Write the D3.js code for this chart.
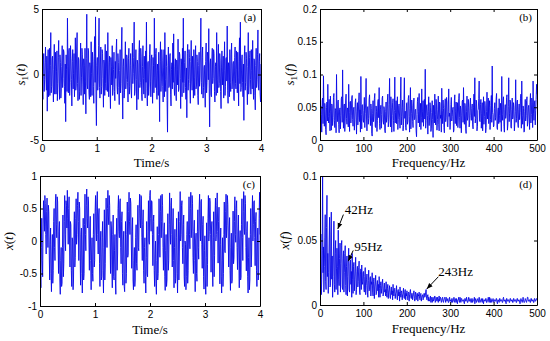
<!DOCTYPE html>
<html><head><meta charset="utf-8">
<script src="https://cdn.jsdelivr.net/npm/d3@7"></script>
<style>body{margin:0;background:#fff}svg{display:block}</style>
</head><body><svg id="c" width="550" height="341"></svg>
<script>
// ---- data ----
const timeTicks=[0,1,2,3,4];
const freqTicks=[0,100,200,300,400,500];
const s1tTicks=[-5,0,5];
const s1fTicks=[0,0.05,0.1,0.15,0.2];
const xtTicks=[-1,-0.5,0,0.5,1];
const xfTicks=[0,0.05,0.1];
const timeSpan=[0,4];
const freqSpan=[0,500];

const s1t=[0.8,-0.6,-1.9,1.1,1.6,-1.3,-0.4,0.9,2.1,-0.2,-1.2,1.4,-2.8,0.5,1.9,-1.7,0.3,2.0,-1.6,0.7,3.2,-1.4,-0.9,1.2,1.4,-0.8,-2.1,0.4,2.3,-1.5,0.6,1.7,-1.5,0.2,1.8,-2.0,-0.7,1.3,2.6,-0.5,-1.9,1.5,0.9,-1.8,-1.1,0.6,2.2,-1.0,-0.3,1.9,
1.7,-0.9,-2.2,0.8,-3.6,1.5,0.4,-1.3,4.3,0.6,-1.4,1.8,2.0,-1.6,-0.6,2.2,1.2,-0.4,-2.4,1.0,1.9,-1.1,0.1,1.6,-1.7,-0.2,2.8,-1.2,-0.8,2.1,3.2,-0.7,-2.0,1.3,1.1,-1.9,-1.3,0.5,2.4,-1.6,-0.2,2.0,1.5,-0.8,-2.3,1.2,0.7,-1.5,2.0,-0.5,
-3.0,1.2,4.6,-0.8,-1.1,2.0,1.8,-1.4,-1.9,0.9,0.5,-1.7,2.5,0.1,-1.6,1.7,1.0,-0.9,-2.2,1.4,2.9,-0.6,4.4,-1.8,-3.9,0.7,1.3,-1.2,-0.5,2.2,4.3,-1.0,-1.8,0.8,2.1,-1.5,-0.9,1.9,1.6,-0.3,-2.5,1.1,0.8,-1.6,2.3,-0.7,-1.2,1.8,0.2,-1.3,
3.2,-0.5,-1.7,0.9,1.4,-1.1,-2.6,1.3,0.6,-0.8,2.2,-1.6,-1.0,0.4,1.7,-1.3,-2.0,1.0,-0.3,1.8,2.7,-0.9,-1.5,1.6,0.9,-1.0,-2.3,0.3,1.9,-1.4,-0.7,2.1,3.6,-1.2,-3.4,0.6,1.2,-1.8,-1.4,0.8,2.5,-1.1,-0.4,1.5,1.3,-0.6,-2.1,1.2,2.0,-1.5,
-0.9,0.7,1.6,-1.2,-1.8,0.5,2.4,-0.7,0.1,1.3,4.0,-1.6,-1.3,0.8,1.9,-0.4,-2.7,1.1,0.8,-1.9,-1.1,1.7,2.6,-1.0,-0.6,2.0,1.4,-1.5,-2.0,0.6,2.2,-0.3,-1.5,1.4,0.4,-1.8,1.8,-0.6,4.0,-1.1,-2.4,0.9,1.0,-1.6,-0.8,1.5,2.3,-0.5,-1.7,1.2,
1.5,-0.8,-2.2,1.3,0.7,-1.4,4.3,-0.2,-1.0,1.6,2.0,-1.2,-1.9,0.8,0.3,-1.6,1.7,-0.5,-3.6,1.0,2.5,-1.3,-0.5,1.9,1.1,-0.9,-2.1,0.5,1.9,-1.7,3.2,-0.4,-1.3,1.5,0.6,-2.0,-4.4,0.7,2.1,-1.0,-0.9,1.4,1.6,-1.5,-2.4,0.4,0.9,-1.1,2.4,-0.6,
3.1,-0.9,-1.6,0.6,1.2,-1.5,-2.0,1.1,0.4,-0.8,2.7,-1.3,-1.1,1.7,1.5,-0.3,-2.6,1.2,0.8,-1.7,2.0,-0.6,4.3,-1.4,-0.7,0.9,1.8,-1.0,-1.9,0.5,-3.3,1.6,2.3,-1.2,-0.4,1.9,1.3,-0.7,-2.2,1.0,2.6,-0.5,-1.2,1.4,0.5,-1.8,1.9,-0.2,-1.6,1.1,
2.2,-1.1,-0.8,1.5,1.0,-1.6,-2.3,0.7,1.7,-0.9,-0.2,1.8,4.3,-0.6,-1.5,1.3,2.1,-1.8,-1.0,0.5,0.7,-1.2,-2.5,1.0,2.4,-1.4,-0.6,1.7,1.4,-0.4,3.5,-1.1,-4.0,0.8,1.2,-1.5,-1.7,1.1,2.0,-0.7,-0.3,1.9,1.6,-1.3,-2.1,0.6,0.9,-1.6,3.2,-0.4,
-1.4,0.9,2.3,-1.0,-0.7,1.6,1.1,-1.3,-2.6,0.5,1.8,-0.8,0.2,1.4,-1.8,0.3,2.5,-1.6,-0.9,1.2,1.3,-0.5,3.7,-1.2,-2.2,0.9,0.6,-1.7,1.9,-0.6,-1.3,1.5,2.4,-1.1,-0.5,0.8,1.0,-1.9,-2.0,1.3,2.1,-0.7,-1.1,1.8,0.4,-1.4,1.7,-0.2,-2.4,1.0,
2.8,-0.7,4.0,-1.3,-1.0,1.1,1.5,-0.6,-1.7,0.8,-3.5,1.4,2.2,-1.2,-0.6,1.7,1.2,-0.9,-2.3,0.6,3.2,-1.5,-0.8,1.3,1.8,-0.4,-1.5,1.9,0.3,-1.1,2.6,-0.5,-1.9,1.2,1.1,-1.6,-2.7,0.7,2.0,-1.0,-0.4,1.5,3.4,-0.8,-1.2,1.0,1.6,-1.4,-2.1,0.8];

const s1f=[.031,.018,.052,.039,.012,.060,.064,.025,.098,.044,.021,.056,.047,.016,.008,.050,.058,.029,.085,.036,.026,.062,.041,.014,.067,.043,.015,.055,.053,.022,.034,.065,.071,.030,.019,.048,.045,.011,.100,.037,.028,.059,.061,.024,.011,.046,.049,.017,.037,.063,
.066,.027,.107,.040,.018,.052,.055,.013,.032,.061,.070,.033,.024,.049,.046,.020,.085,.042,.013,.058,.059,.026,.038,.064,.068,.031,.021,.047,.050,.015,.029,.057,.063,.035,.009,.044,.057,.023,.035,.060,.072,.028,.046,.012,.097,.039,.017,.053,.054,.030,
.027,.045,.065,.019,.040,.058,.094,.032,.014,.049,.051,.024,.033,.062,.069,.037,.022,.055,.048,.010,.006,.041,.060,.028,.036,.063,.071,.021,.019,.052,.044,.013,.030,.059,.062,.034,.080,.025,.016,.047,.053,.018,.039,.064,.067,.029,.024,.051,.047,.015,
.011,.043,.058,.027,.034,.061,.070,.020,.028,.054,.094,.038,.020,.066,.049,.012,.037,.057,.063,.030,.013,.045,.096,.026,.042,.060,.025,.046,.066,.016,.031,.053,.055,.035,.018,.064,.096,.023,.036,.050,.061,.014,.022,.058,.095,.033,.044,.019,.015,.056,
.057,.024,.029,.063,.068,.036,.012,.048,.080,.017,.040,.061,.052,.028,.019,.055,.064,.031,.033,.046,.047,.014,.005,.039,.059,.065,.026,.043,.071,.020,.038,.056,.016,.034,.078,.027,.043,.060,.021,.049,.062,.032,.108,.018,.030,.052,.054,.037,.009,.044,
.066,.022,.035,.057,.049,.013,.017,.042,.060,.031,.004,.053,.045,.026,.070,.039,.023,.062,.052,.015,.031,.047,.067,.024,.014,.058,.056,.033,.038,.012,.079,.045,.025,.061,.048,.019,.011,.050,.063,.028,.034,.065,.058,.021,.020,.044,.078,.036,.041,.016,
.027,.054,.065,.029,.036,.047,.050,.012,.015,.060,.069,.025,.043,.058,.022,.040,.057,.019,.032,.063,.071,.034,.018,.052,.046,.011,.038,.059,.061,.027,.080,.041,.024,.056,.053,.017,.010,.044,.067,.030,.035,.062,.049,.020,.026,.055,.064,.037,.030,.048,
.055,.023,.017,.049,.070,.036,.095,.026,.033,.061,.058,.014,.021,.045,.047,.063,.090,.029,.028,.054,.062,.018,.040,.057,.014,.035,.066,.024,.036,.059,.052,.011,.019,.043,.073,.032,.044,.064,.025,.050,.060,.016,.031,.053,.068,.027,.113,.042,.039,.020,
.022,.048,.057,.030,.034,.062,.071,.019,.016,.044,.049,.025,.063,.037,.027,.056,.045,.013,.097,.039,.030,.060,.066,.021,.012,.046,.054,.033,.038,.065,.069,.015,.023,.051,.095,.028,.041,.061,.058,.020,.018,.047,.064,.032,.035,.057,.050,.014,.026,.043,
.092,.027,.033,.058,.061,.024,.019,.046,.055,.031,.042,.063,.070,.018,.090,.037,.024,.052,.048,.012,.013,.044,.062,.029,.037,.060,.066,.021,.028,.049,.053,.035,.016,.057,.071,.026,.039,.064,.057,.019,.090,.041,.030,.055,.060,.023,.045,.062,.085,.070];

const xt=[0.05,-0.4,-0.72,-0.1,0.35,-0.3,-0.55,0.2,0.62,0.4,0.15,0.7,0.58,0.1,-0.2,0.45,0.66,0.2,-0.1,0.55,0.45,-0.2,-0.6,-0.05,0.2,-0.5,-0.78,-0.2,0.1,-0.65,-0.45,0.3,0.5,-0.1,-0.3,0.6,0.72,0.25,0.05,0.68,0.6,0.0,-0.5,0.15,0.3,-0.6,-0.82,-0.3,-0.1,-0.7,
-0.65,-0.1,0.4,-0.55,-0.35,0.3,0.7,0.1,-0.15,0.62,0.55,0.2,0.78,0.35,-0.05,0.5,0.68,0.0,-0.4,0.3,0.25,-0.45,-0.7,0.05,0.0,-0.75,-0.6,0.2,0.45,-0.4,-0.25,0.35,0.65,-0.05,0.1,0.55,0.75,0.3,-0.3,0.6,0.5,-0.15,-0.68,0.1,0.2,-0.5,-0.8,-0.2,0.35,-0.6,
-0.5,0.25,0.72,0.1,-0.15,0.55,0.8,0.35,0.2,0.68,0.6,0.0,-0.45,0.2,0.38,-0.3,-0.75,-0.2,0.05,-0.5,-0.62,0.1,0.42,-0.4,-0.3,0.45,0.7,0.2,0.0,0.6,0.76,0.1,-0.2,0.4,0.5,-0.35,-0.7,0.0,0.15,-0.6,-0.55,0.05,0.3,-0.45,-0.8,-0.1,0.48,-0.6,-0.35,0.2,
0.66,0.2,-0.1,0.5,0.78,0.4,0.25,0.7,0.55,0.0,-0.5,0.3,0.2,-0.4,-0.72,0.1,0.4,-0.55,-0.6,-0.15,0.1,-0.6,-0.82,0.05,0.35,-0.45,-0.2,0.5,0.7,0.15,0.05,0.6,0.65,-0.1,-0.35,0.3,0.45,-0.5,-0.68,0.0,0.15,-0.7,-0.78,-0.2,0.3,-0.65,-0.5,0.1,0.6,-0.25,
-0.2,0.45,0.75,0.3,0.1,0.66,0.58,0.0,-0.42,0.15,0.36,-0.6,-0.75,-0.3,-0.1,-0.7,-0.6,0.05,0.25,-0.35,-0.45,0.2,0.55,-0.1,-0.15,0.5,0.72,0.35,0.2,0.7,0.68,0.05,-0.3,0.25,0.48,-0.45,-0.65,-0.1,0.05,-0.55,-0.8,-0.25,0.3,-0.5,-0.55,0.15,0.62,0.0,-0.05,0.7,
0.78,0.35,0.15,0.62,0.6,0.1,-0.38,0.3,0.4,-0.45,-0.7,-0.2,0.0,-0.65,-0.82,-0.3,0.22,-0.6,-0.5,0.1,0.65,0.2,-0.25,0.45,0.7,0.05,0.3,0.72,0.55,-0.1,-0.45,0.15,0.28,-0.55,-0.76,-0.15,0.1,-0.7,-0.6,0.0,0.42,-0.45,-0.3,0.25,0.74,0.2,-0.05,0.55,0.66,0.1,
-0.4,0.2,0.5,-0.3,-0.72,-0.1,0.18,-0.65,-0.58,0.05,0.35,-0.5,-0.8,-0.2,0.45,-0.6,-0.2,0.3,0.76,0.0,0.1,0.55,0.62,-0.1,-0.35,0.25,0.4,-0.55,-0.7,0.0,-0.05,-0.75,-0.55,0.1,0.3,-0.65,-0.45,0.2,0.68,0.1,-0.12,0.5,0.75,0.05,0.2,0.7,0.58,-0.25,-0.5,0.15,
0.32,-0.3,-0.78,0.0,0.12,-0.5,-0.62,0.15,0.48,-0.1,-0.28,0.5,0.72,0.2,0.0,0.6,0.64,-0.05,-0.42,0.25,0.38,-0.55,-0.74,-0.15,0.08,-0.6,-0.82,-0.25,0.28,-0.7,-0.36,0.35,0.7,0.0,0.15,0.66,0.6,0.1,-0.48,0.2,0.3,-0.4,-0.7,0.05,0.45,-0.55,-0.22,0.4,0.66,0.0,
0.1,0.55,0.74,0.15,-0.34,0.3,0.52,-0.2,-0.66,-0.05,0.2,-0.55,-0.8,-0.3,0.05,-0.7,-0.5,0.1,0.6,-0.15,-0.18,0.45,0.72,0.05,0.24,0.7,0.56,0.0,-0.4,0.2,0.36,-0.45,-0.76,-0.1,0.12,-0.65,-0.6,0.0,0.46,-0.35,-0.26,0.3,0.68,0.1,-0.02,0.5,0.62,-0.1,-0.44,0.15,
0.4,-0.2,-0.72,0.0,0.16,-0.6,-0.56,0.25,0.65,0.05,-0.3,0.45,0.76,0.2,0.1,0.7,0.58,-0.1,-0.46,0.15,0.3,-0.55,-0.8,-0.25,0.05,-0.75,-0.6,0.1,0.5,-0.4,-0.2,0.4,0.7,0.0,0.25,0.6,0.62,0.05,-0.38,0.3,0.44,-0.45,-0.7,0.0,0.2,-0.6,-0.5,0.35,0.75,0.1];

const xf=[.035,.015,.055,.008,.020,.042,.100,.025,.045,.010,.030,.052,.070,.018,.012,.060,.085,.022,.040,.009,.025,.048,.068,.014,.015,.055,.072,.020,.038,.006,.022,.045,.065,.016,.010,.040,.050,.012,.028,.044,.030,.008,.058,.020,.015,.036,.048,.010,.032,.046,
.050,.014,.012,.036,.042,.010,.025,.040,.046,.015,.008,.030,.038,.007,.022,.035,.044,.012,.010,.032,.035,.016,.026,.006,.040,.020,.009,.030,.033,.011,.020,.028,.037,.008,.012,.026,.030,.014,.018,.029,.034,.010,.008,.024,.028,.012,.031,.018,.016,.025,
.026,.012,.010,.022,.029,.008,.015,.020,.024,.010,.006,.019,.027,.011,.012,.021,.022,.007,.018,.016,.025,.010,.007,.018,.021,.005,.014,.017,.023,.008,.009,.016,.019,.011,.016,.006,.022,.013,.006,.015,.018,.009,.013,.017,.020,.007,.008,.014,.017,.010,
.012,.007,.018,.009,.006,.013,.016,.005,.010,.012,.015,.006,.005,.011,.014,.008,.011,.004,.016,.009,.007,.012,.013,.005,.009,.010,.015,.006,.004,.011,.012,.007,.010,.003,.014,.009,.006,.010,.011,.004,.008,.009,.013,.006,.005,.010,.012,.004,.009,.007,
.011,.005,.004,.009,.010,.003,.008,.010,.012,.006,.005,.009,.009,.004,.007,.008,.011,.005,.003,.008,.010,.004,.006,.009,.009,.003,.008,.007,.010,.005,.004,.008,.009,.003,.006,.007,.008,.004,.005,.009,.009,.006,.007,.010,.012,.005,.004,.007,.008,.003,
.006,.004,.003,.005,.007,.002,.005,.006,.002,.004,.006,.003,.004,.005,.007,.002,.003,.006,.005,.003,.006,.004,.002,.005,.007,.003,.004,.006,.005,.002,.003,.005,.006,.003,.002,.004,.005,.006,.004,.002,.006,.005,.003,.004,.005,.002,.002,.004,.006,.003,
.004,.003,.002,.005,.005,.002,.003,.004,.006,.003,.002,.005,.004,.002,.005,.003,.001,.004,.004,.006,.003,.002,.006,.004,.002,.005,.005,.003,.003,.004,.004,.002,.001,.005,.005,.003,.003,.006,.004,.002,.002,.004,.006,.003,.003,.005,.004,.002,.002,.005,
.005,.002,.003,.004,.004,.006,.001,.003,.005,.004,.002,.003,.004,.005,.003,.002,.006,.004,.002,.003,.004,.005,.003,.002,.005,.003,.001,.004,.004,.003,.003,.005,.005,.002,.002,.004,.004,.006,.003,.002,.006,.003,.002,.005,.004,.002,.003,.004,.005,.003,
.002,.004,.004,.003,.003,.005,.005,.002,.001,.004,.004,.003,.002,.005,.005,.003,.003,.004,.004,.002,.002,.005,.006,.003,.003,.004,.004,.002,.001,.005,.005,.003,.003,.004,.004,.002,.002,.005,.005,.003,.003,.004,.004,.002,.002,.005,.005,.003,.003,.004,
.004,.002,.002,.005,.005,.003,.003,.004,.004,.002,.001,.003,.005,.004,.003,.002,.004,.006,.004,.002,.002,.003,.005,.004,.003,.002,.004,.006,.006,.003,.003,.004,.004,.002,.002,.005,.005,.003,.003,.004,.004,.002,.002,.005,.005,.003,.003,.004,.005,.004];

const peakLabels=["42Hz","95Hz","243Hz"];
const peakFreq=[41,65,246];
const peakAmp=[0.059,0.034,0.0124];

// ---- drawing ----
const svg=d3.select("#c");
svg.append("defs").append("marker").attr("id","arr").attr("viewBox","0 0 10 10")
  .attr("refX",10).attr("refY",5).attr("markerWidth",6).attr("markerHeight",6)
  .attr("orient","auto").attr("markerUnits","userSpaceOnUse")
  .append("path").attr("d","M0,1L10,5L0,9Z").attr("fill","#000");

const SERIF="'Liberation Serif','Times New Roman',serif";
const SANS="'Liberation Sans',Arial,sans-serif";

function panel(o){
  const g=svg.append("g");
  const x=d3.scaleLinear().domain(o.xDom).range([o.L,o.R]);
  const y=d3.scaleLinear().domain(o.yDom).range([o.B,o.T]);
  const cid="clip"+o.tag;
  svg.select("defs").append("clipPath").attr("id",cid).append("rect")
    .attr("x",o.L).attr("y",o.T).attr("width",o.R-o.L).attr("height",o.B-o.T);
  const step=(o.xDom[1]-o.xDom[0])/(o.values.length-1);
  const line=d3.line().x((d,i)=>x(o.xDom[0]+i*step)).y(d=>y(d));
  g.append("path").datum(o.values).attr("d",line).attr("fill","none")
    .attr("stroke","#0808e8").attr("stroke-width",0.9).attr("stroke-linejoin","round")
    .attr("clip-path","url(#"+cid+")");
  const fmt=d=>String(d);
  const ax=(gen,tr)=>{const a=g.append("g").attr("transform",tr).call(gen);
    a.select(".domain").attr("stroke","#000");
    a.selectAll(".tick line").attr("stroke","#000");
    a.selectAll("text").attr("font-family",SANS).attr("font-size",10).attr("fill","#000");
    return a;};
  ax(d3.axisBottom(x).tickValues(o.xTicks).tickFormat(fmt).tickSizeInner(-3).tickSizeOuter(0).tickPadding(5),`translate(0,${o.B})`);
  ax(d3.axisTop(x).tickValues(o.xTicks).tickFormat("").tickSizeInner(-3).tickSizeOuter(0),`translate(0,${o.T})`);
  ax(d3.axisLeft(y).tickValues(o.yTicks).tickFormat(fmt).tickSizeInner(-3).tickSizeOuter(0).tickPadding(3),`translate(${o.L},0)`);
  ax(d3.axisRight(y).tickValues(o.yTicks).tickFormat("").tickSizeInner(-3).tickSizeOuter(0),`translate(${o.R},0)`);
  g.append("text").attr("x",o.R-5).attr("y",o.T+12).attr("text-anchor","end")
    .attr("font-family",SERIF).attr("font-size",11).text("("+o.tag+")");
  g.append("text").attr("x",(o.L+o.R)/2).attr("y",o.xTitleY).attr("text-anchor","middle")
    .attr("font-family",SERIF).attr("font-size",13).text(o.xTitle);
  const yt=g.append("text").attr("transform",`translate(${o.yTitleX},${(o.T+o.B)/2}) rotate(-90)`)
    .attr("text-anchor","middle").attr("font-family",SERIF).attr("font-size",13);
  yt.append("tspan").attr("font-style","italic").text(o.yVar);
  if(o.ySub){yt.append("tspan").attr("font-size",9).attr("dy",3).text(o.ySub);
    yt.append("tspan").attr("dy",-3).text("(");}
  else yt.append("tspan").text("(");
  yt.append("tspan").attr("font-style","italic").text(o.yArg);
  yt.append("tspan").text(")");
  return {g,x,y};
}

panel({tag:"a",L:42,R:261,T:9,B:140,xDom:timeSpan,yDom:[-5,5],xTicks:timeTicks,yTicks:s1tTicks,
  values:s1t,xTitle:"Time/s",xTitleY:167,yTitleX:25,yVar:"s",ySub:"1",yArg:"t"});
panel({tag:"b",L:320,R:537,T:9,B:140,xDom:freqSpan,yDom:[0,0.2],xTicks:freqTicks,yTicks:s1fTicks,
  values:s1f,xTitle:"Frequency/Hz",xTitleY:167,yTitleX:294,yVar:"s",ySub:"1",yArg:"f"});
panel({tag:"c",L:40,R:260,T:176,B:306,xDom:timeSpan,yDom:[-1,1],xTicks:timeTicks,yTicks:xtTicks,
  values:xt,xTitle:"Time/s",xTitleY:334,yTitleX:13,yVar:"x",ySub:null,yArg:"t"});
const pd=panel({tag:"d",L:320,R:537,T:176,B:305,xDom:freqSpan,yDom:[0,0.1],xTicks:freqTicks,yTicks:xfTicks,
  values:xf,xTitle:"Frequency/Hz",xTitleY:333,yTitleX:289,yVar:"x",ySub:null,yArg:"f"});

const arrowOff=[[5.6,-14.3],[5,-10.7],[11.6,-12.3]];
const textOff=[[7,-15],[6,-10],[11.5,-13]];
peakLabels.forEach((lab,i)=>{
  const tx=pd.x(peakFreq[i]), ty=pd.y(peakAmp[i]);
  pd.g.append("line").attr("x1",tx+arrowOff[i][0]).attr("y1",ty+arrowOff[i][1])
    .attr("x2",tx).attr("y2",ty).attr("stroke","#000").attr("stroke-width",1)
    .attr("marker-end","url(#arr)");
  pd.g.append("text").attr("x",tx+textOff[i][0]).attr("y",ty+textOff[i][1])
    .attr("font-family",SERIF).attr("font-size",13).text(lab);
});
</script></body></html>
